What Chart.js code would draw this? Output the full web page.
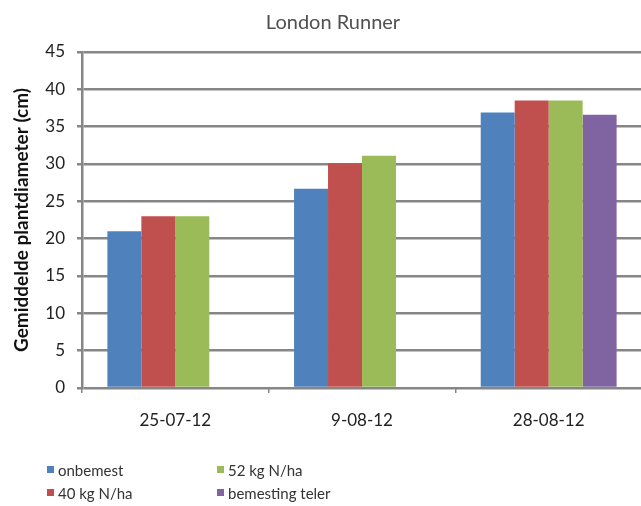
<!DOCTYPE html>
<html>
<head>
<meta charset="utf-8">
<script src="https://cdn.jsdelivr.net/npm/chart.js@4/dist/chart.umd.min.js"></script>
<style>
    html, body { margin: 0; padding: 0; overflow: hidden; background: #fff; }
    #wrap { position: relative; width: 641px; height: 506px; overflow: hidden; }
    #legend { position: absolute; left: 0; top: 0; font-family: Lato, sans-serif; font-size: 15px; color: #333; }
    .item { position: absolute; white-space: nowrap; line-height: 18px; }
    .item i { position: absolute; left: 0; top: 5px; width: 7px; height: 7px; }
    .item span { position: absolute; left: 11px; top: 0; }
</style>
</head>
<body>
<div id="wrap">
    <canvas id="chart" width="644" height="506"></canvas>
    <div id="legend"></div>
</div>
<script>
// data
var categories = ['25-07-12', '9-08-12', '28-08-12'];
var seriesNames = ['onbemest', '40 kg N/ha', '52 kg N/ha', 'bemesting teler'];
var onbemest = [21.0, 26.7, 36.9];
var kg40 = [23.0, 30.1, 38.5];
var kg52 = [23.0, 31.1, 38.5];
var teler = [null, null, 36.6];
var yTicks = [0, 5, 10, 15, 20, 25, 30, 35, 40, 45];

var colors = ['#4F81BD', '#C0504D', '#9BBB59', '#8064A2'];
var gridGray = '#868686';

Chart.defaults.font.family = 'Lato, sans-serif';
Chart.defaults.color = '#222';

// titel tekenen (iets rechts van het midden, zoals in het origineel)
var titlePlugin = {
    id: 'titleText',
    afterDraw: function (chart) {
        var ctx = chart.ctx;
        ctx.save();
        ctx.font = '20px Lato, sans-serif';
        ctx.fillStyle = '#505050';
        ctx.textAlign = 'center';
        ctx.textBaseline = 'middle';
        ctx.fillText('London Runner', 333, 23);
        ctx.restore();
    }
};

var allSeries = [onbemest, kg40, kg52, teler];
var datasets = [];
for (var i = 0; i < allSeries.length; i++) {
    datasets.push({
        label: seriesNames[i],
        data: allSeries[i],
        backgroundColor: colors[i],
        borderWidth: 0,
        categoryPercentage: 0.728,
        barPercentage: 1.0
    });
}

var chart = new Chart(document.getElementById('chart'), {
    type: 'bar',
    data: {
        labels: categories,
        datasets: datasets
    },
    options: {
        responsive: false,
        animation: false,
        layout: { padding: { top: 52, right: 2, bottom: 58, left: 0 } },
        plugins: {
            legend: { display: false },
            tooltip: { enabled: false }
        },
        scales: {
            x: {
                grid: {
                    drawOnChartArea: false,
                    drawTicks: true,
                    tickLength: 5,
                    color: gridGray,
                    lineWidth: 1.5
                },
                border: { display: false },
                ticks: { font: { size: 17 }, color: '#222', padding: 17 },
                afterFit: function (scale) { scale.height = 60; }
            },
            y: {
                min: 0,
                max: 45,
                afterBuildTicks: function (scale) {
                    scale.ticks = yTicks.map(function (v) { return { value: v }; });
                },
                grid: {
                    color: gridGray,
                    lineWidth: 2.5,
                    tickLength: 5
                },
                border: { display: true, color: gridGray, width: 2.5 },
                ticks: { font: { size: 17 }, color: '#222', padding: 12 },
                title: {
                    display: true,
                    text: 'Gemiddelde plantdiameter (cm)',
                    font: { size: 19, weight: 'bold' },
                    color: '#111',
                    padding: { top: 10, bottom: 0 }
                },
                afterFit: function (scale) { scale.width = 82; }
            }
        }
    },
    plugins: [titlePlugin]
});

// legenda in twee kolommen onder de grafiek
var legendPos = [[47, 461], [47, 484], [217, 461], [217, 484]];
var html = '';
for (var j = 0; j < seriesNames.length; j++) {
    html += '<div class="item" style="left:' + legendPos[j][0] + 'px;top:' + legendPos[j][1] + 'px">' +
        '<i style="background:' + colors[j] + '"></i><span>' + seriesNames[j] + '</span></div>';
}
document.getElementById('legend').innerHTML = html;
</script>
</body>
</html>
